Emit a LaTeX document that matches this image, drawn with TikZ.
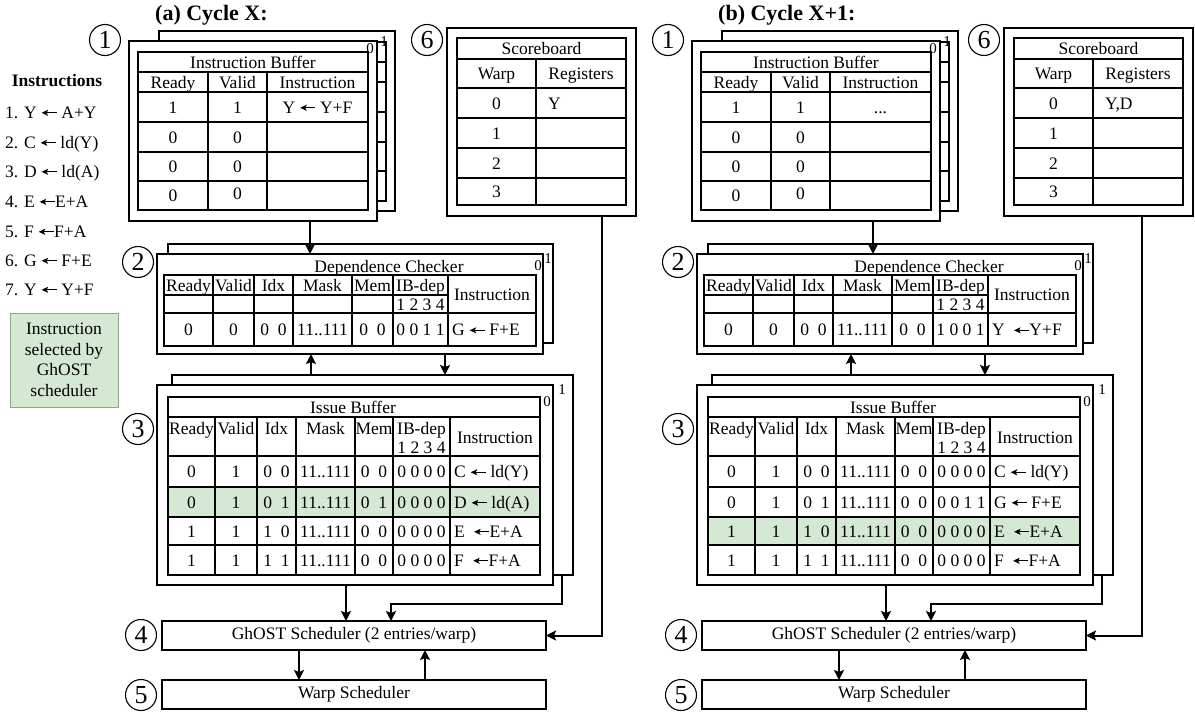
\documentclass[tikz,border=0pt]{standalone}
\usepackage{fontspec}
\setmainfont{Liberation Serif}
\usetikzlibrary{arrows.meta,fit}
\definecolor{selg}{HTML}{D5E8D4}
\definecolor{selb}{HTML}{82B366}
\newcounter{tn}
\newcommand\tx[3]{\stepcounter{tn}\node[tx] (t\arabic{tn}) at (#1,#2) {#3};}
\newcommand\txl[3]{\stepcounter{tn}\node[tx,anchor=base west] (t\arabic{tn}) at (#1,#2) {#3};}
\newcommand\lb[3]{\stepcounter{tn}\node[lbl] (t\arabic{tn}) at (#1,#2) {#3};}
\newcommand\cn[3]{\stepcounter{tn}\node[cnum] (t\arabic{tn}) at (#1,#2) {#3};}
\newcommand\ar{\tikz[baseline=-5.2pt]{\draw[line width=0.9pt,-{Stealth[length=6.5pt,width=6pt,inset=1.5pt]}] (15pt,0pt)--(0pt,0pt);}}
\tikzset{
 frame/.style={draw, line width=2pt, fill=white, inner sep=0pt, outer sep=0pt},
 tbl/.style={line width=2pt},
 tln/.style={line width=1.5pt},
 tx/.style={inner sep=0pt, font=\fontsize{17.5}{20}\selectfont, anchor=base},
 lbl/.style={inner sep=0pt, font=\fontsize{15}{18}\selectfont},
 cnum/.style={draw, circle, line width=1.1pt, minimum size=31pt, inner sep=0pt, font=\fontsize{26}{26}\selectfont},
 conn/.style={line width=2pt, -{Stealth[length=10pt,width=10pt,inset=2pt]}},
}
% ---------- Instruction buffer ----------
\newcommand\IBcomp[3]{%
 \node[font=\bfseries\fontsize{22}{24}\selectfont, anchor=west, inner sep=0pt] (title#1) at (155,15) {#3};
 \cn{105}{40}{1}
 \node[frame, fit={(159,31)(395,211)}] (ibb#1) {};
 \draw[tbl, fill=white] (156,42) rectangle (386,201);
 \foreach \yy in {62,82,112,142,171} {\draw[tln] (156,\yy) -- (386,\yy);}
 \node[frame, fit={(129,41)(377,221)}] (ibf#1) {};
 \draw[tbl] (138,52) rectangle (368,210);
 \foreach \yy in {72,92,122,152,181} {\draw[tln] (138,\yy) -- (368,\yy);}
 \draw[tln] (208,72) -- (208,210) (267,72) -- (267,210);
 \lb{370}{49}{0}\lb{384}{42}{1}
 \tx{253}{68}{Instruction Buffer}
 \tx{173}{88}{Ready}\tx{237.5}{88}{Valid}\tx{317.5}{88}{Instruction}
 \tx{173}{113}{1}\tx{237.5}{113}{1}\tx{317.5}{113}{#2}
 \tx{173}{143}{0}\tx{237.5}{143}{0}
 \tx{173}{172.5}{0}\tx{237.5}{172.5}{0}
 \tx{173}{201.5}{0}\tx{237.5}{199}{0}
 \coordinate (x310#1) at (310,0);
}
% ---------- Scoreboard ----------
\newcommand\SBcomp[2]{%
 \cn{427}{40}{6}
 \node[frame, fit={(447,28)(636,216)}] (sb#1) {};
 \draw[tbl] (457,38) rectangle (626,205);
 \foreach \yy in {59,88,118,148,178} {\draw[tln] (457,\yy) -- (626,\yy);}
 \draw[tln] (536,59) -- (536,205);
 \tx{541.5}{54.5}{Scoreboard}
 \tx{496.5}{79.5}{Warp}\tx{581}{79.5}{Registers}
 \tx{496.5}{109}{0}\txl{548}{109}{#2}
 \tx{496.5}{139}{1}\tx{496.5}{169}{2}\tx{496.5}{197.5}{3}
}
% ---------- Lower part ----------
\newcommand\LOWcomp[8]{%
 \cn{138}{262}{2}\cn{138}{429}{3}\cn{141}{635}{4}\cn{141}{695}{5}
 % Dependence checker
 \node[frame, fit={(168,244)(553,343)}] (dcb#1) {};
 \node[frame, fit={(157,254)(543,354)}] (dcf#1) {};
 \draw[tbl] (164,275) rectangle (536,346);
 \draw[tln] (164,295) -- (448,295) (164,313) -- (536,313);
 \foreach \xx in {213,254,293,352,393,448} {\draw[tln] (\xx,275) -- (\xx,346);}
 \tx{389}{272}{Dependence Checker}
 \lb{538}{266}{0}\lb{548}{259}{1}
 \tx{188.5}{291}{Ready}\tx{233.5}{291}{Valid}\tx{273.5}{291}{Idx}\tx{322.5}{291}{Mask}\tx{372.5}{291}{Mem}\tx{420.5}{291}{IB-dep}
 \tx{420.5}{310}{1 2 3 4}\tx{492}{300}{Instruction}
 \tx{188.5}{335.5}{0}\tx{233.5}{335.5}{0}\tx{273.5}{335.5}{0~~0}\tx{322.5}{335.5}{11..111}\tx{372.5}{335.5}{0~~0}\tx{420.5}{335.5}{#2}\txl{452}{335.5}{#3}
 % Issue buffer
 \node[frame, fit={(172,375)(573,575)}] (isb#1) {};
 \node[frame, fit={(157,385)(553,585)}] (isf#1) {};
 \fill[selg] (168,#4) rectangle (540,#5);
 \draw[tbl] (168,397) rectangle (540,575);
 \foreach \yy in {417,456,487,517,545} {\draw[tln] (168,\yy) -- (540,\yy);}
 \foreach \xx in {215,257,296,355,393,450} {\draw[tln] (\xx,417) -- (\xx,575);}
 \tx{353}{413}{Issue Buffer}
 \lb{547}{402}{0}\lb{562}{390}{1}
 \tx{191.5}{434}{Ready}\tx{236}{434}{Valid}\tx{276.5}{434}{Idx}\tx{325.5}{434}{Mask}\tx{374}{434}{Mem}\tx{421.5}{434}{IB-dep}
 \tx{421.5}{453}{1 2 3 4}\tx{495}{443}{Instruction}
 \tx{191.5}{477.5}{0}\tx{236}{477.5}{1}\tx{276.5}{477.5}{0~~0}\tx{325.5}{477.5}{11..111}\tx{374}{477.5}{0~~0}\tx{421.5}{477.5}{0 0 0 0}\txl{454}{477.5}{C \ar{} ld(Y)}
 \tx{191.5}{508}{0}\tx{236}{508}{1}\tx{276.5}{508}{0~~1}\tx{325.5}{508}{11..111}\tx{374}{508}{#6}\tx{421.5}{508}{#7}\txl{454}{508}{#8}
 \tx{191.5}{537}{1}\tx{236}{537}{1}\tx{276.5}{537}{1~~0}\tx{325.5}{537}{11..111}\tx{374}{537}{0~~0}\tx{421.5}{537}{0 0 0 0}\txl{454}{537}{E\ \ \ar{}E+A}
 \tx{191.5}{566}{1}\tx{236}{566}{1}\tx{276.5}{566}{1~~1}\tx{325.5}{566}{11..111}\tx{374}{566}{0~~0}\tx{421.5}{566}{0 0 0 0}\txl{454}{566}{F\ \ \ar{}F+A}
 % schedulers
 \node[frame, fit={(162,621)(546,650)}] (gh#1) {};
 \node[tx, anchor=center] (ght#1) at (gh#1.center) {GhOST Scheduler (2 entries/warp)};
 \node[frame, fit={(162,680)(546,709)}] (ws#1) {};
 \node[tx, anchor=center] (wst#1) at (ws#1.center) {Warp Scheduler};
 \coordinate (x311#1) at (311,0);
 \coordinate (x445#1) at (445,0);
 \coordinate (x346#1) at (346,0);
 \coordinate (x562#1) at (562,0);
 \coordinate (c391#1) at (391,604);
 \coordinate (x602#1) at (602,0);
 \coordinate (x299#1) at (299,0);
 \coordinate (x425#1) at (425,0);
}
\newcommand\CONNS[1]{%
 \draw[conn] (ibf#1.south -| x310#1) -- (dcf#1.north -| x310#1);
 \draw[conn] (isb#1.north -| x311#1) -- (dcf#1.south -| x311#1);
 \draw[conn] (dcf#1.south -| x445#1) -- (isb#1.north -| x445#1);
 \draw[conn] (isf#1.south -| x346#1) -- (gh#1.north -| x346#1);
 \draw[conn] (isb#1.south -| x562#1) |- (c391#1) -- (gh#1.north -| c391#1);
 \draw[conn] (sb#1.south -| x602#1) |- (gh#1.east);
 \draw[conn] (gh#1.south -| x299#1) -- (ws#1.north -| x299#1);
 \draw[conn] (ws#1.north -| x425#1) -- (gh#1.south -| x425#1);
}
\begin{document}
\begin{tikzpicture}[x=1pt,y=-1pt]
\useasboundingbox (0,0) rectangle (1195,715);
% left legend
\node[font=\bfseries\fontsize{17.5}{20}\selectfont, anchor=base, inner sep=0pt] (ihead) at (57,86) {Instructions};
\txl{5}{118}{1. Y \ar{} A+Y}
\txl{5}{148}{2. C \ar{} ld(Y)}
\txl{5}{177}{3. D \ar{} ld(A)}
\txl{5}{207}{4. E \ar{}E+A}
\txl{5}{237}{5. F \ar{}F+A}
\txl{5}{266}{6. G \ar{} F+E}
\txl{5}{295}{7. Y \ar{} Y+F}
\node[draw=selb, fill=selg, line width=1pt, fit={(10,313)(118,407)}, inner sep=0pt] (legbox) {};
\node[align=center, font=\fontsize{17.5}{20.5}\selectfont, inner sep=0pt] (legtext) at (64,360) {Instruction\\selected by\\GhOST\\scheduler};
% panel a
\IBcomp{A}{Y \ar{} Y+F}{(a) Cycle X:}
\SBcomp{A}{Y}
\LOWcomp{A}{0 0 1 1}{G \ar{} F+E}{487}{517}{0~~1}{0 0 0 0}{D \ar{} ld(A)}
% panel b
\begin{scope}[xshift=563pt]
\IBcomp{B}{...}{(b) Cycle X+1:}
\end{scope}
\begin{scope}[xshift=557pt]
\SBcomp{B}{Y,D}
\end{scope}
\begin{scope}[xshift=540pt]
\LOWcomp{B}{1 0 0 1}{Y\ \ \ar{}Y+F}{517}{545}{0~~0}{0 0 1 1}{G \ar{} F+E}
\end{scope}
\CONNS{A}
\CONNS{B}
\end{tikzpicture}
\end{document}
